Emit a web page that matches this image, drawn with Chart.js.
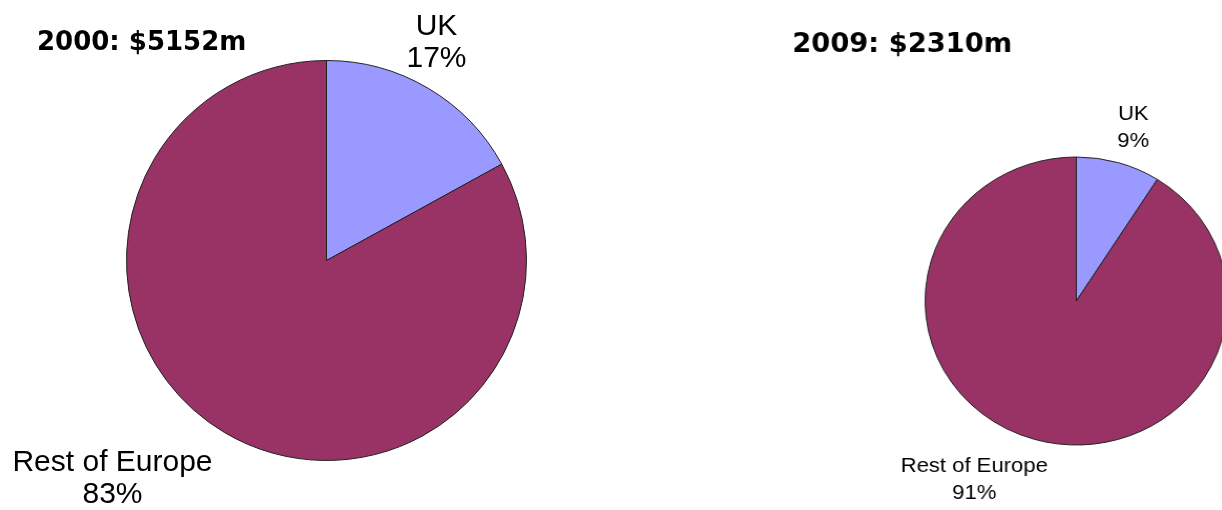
<!DOCTYPE html>
<html>
<head>
<meta charset="utf-8">
<script src="https://cdn.jsdelivr.net/npm/chart.js@4/dist/chart.umd.min.js"></script>
<style>
  html, body { margin: 0; padding: 0; background: #fff; overflow: hidden; }
  body { width: 1222px; height: 510px; position: relative; }
  canvas { position: absolute; top: 0; }
  #pie2000 { left: 0; }
  /* the 2009 pie is drawn a little wider than tall */
  #pie2009 { left: 681px; transform: scaleX(1.05); transform-origin: 0 0; }
</style>
</head>
<body>
<canvas id="pie2000" width="600" height="510"></canvas>
<canvas id="pie2009" width="560" height="510"></canvas>
<script>
const categories = ["UK", "Rest of Europe"];
const share2000 = [17, 83];
const share2009 = [9, 91];
const title2000 = "2000: $5152m";
const title2009 = "2009: $2310m";

const sliceColors = ["#9999ff", "#993366"];

// draws the chart title and the two-line slice labels next to the pie
const pieText = {
  id: "pieText",
  afterDraw(chart, args, opts) {
    const ctx = chart.ctx;
    const arcs = chart.getDatasetMeta(0).data;
    const values = chart.data.datasets[0].data;
    const total = values.reduce((a, b) => a + b, 0);
    ctx.save();
    ctx.fillStyle = "#000";
    ctx.textBaseline = "alphabetic";

    ctx.font = "bold " + opts.titleSize + "px 'DejaVu Sans', Verdana, sans-serif";
    ctx.textAlign = "left";
    ctx.fillText(opts.title, opts.titleX, opts.titleY);

    ctx.font = opts.labelSize + "px 'Liberation Sans', Arial, sans-serif";
    ctx.textAlign = "center";
    arcs.forEach((arc, i) => {
      const r = arc.outerRadius;
      const [ox, oy] = opts.anchors[i];
      const cx = arc.x + ox * r;
      const cy = arc.y + oy * r;
      const pct = Math.round(values[i] / total * 100) + "%";
      ctx.fillText(chart.data.labels[i], cx, cy - opts.lineHeight / 2);
      ctx.fillText(pct, cx, cy + opts.lineHeight / 2);
    });
    ctx.restore();
  }
};

function makePie(canvas, values, padding, text) {
  return new Chart(canvas, {
    type: "pie",
    data: {
      labels: categories,
      datasets: [{
        data: values,
        backgroundColor: sliceColors,
        borderColor: "#222",
        borderWidth: 1
      }]
    },
    options: {
      responsive: false,
      animation: false,
      events: [],
      layout: { padding },
      plugins: {
        legend: { display: false },
        tooltip: { enabled: false },
        title: { display: false },
        pieText: text
      }
    },
    plugins: [pieText]
  });
}

makePie(document.getElementById("pie2000"), share2000,
  { left: 126, top: 60, right: 73, bottom: 49 },
  {
    title: title2000, titleX: 37, titleY: 50, titleSize: 26,
    labelSize: 30, lineHeight: 32,
    anchors: [[0.55, -1.05], [-1.07, 1.13]]
  });

makePie(document.getElementById("pie2009"), share2009,
  { left: 232, top: 156, right: 39, bottom: 64 },
  {
    title: title2009, titleX: 106, titleY: 52, titleSize: 26,
    labelSize: 21, lineHeight: 27,
    anchors: [[0.377, -1.16], [-0.675, 1.28]]
  });
</script>
</body>
</html>
